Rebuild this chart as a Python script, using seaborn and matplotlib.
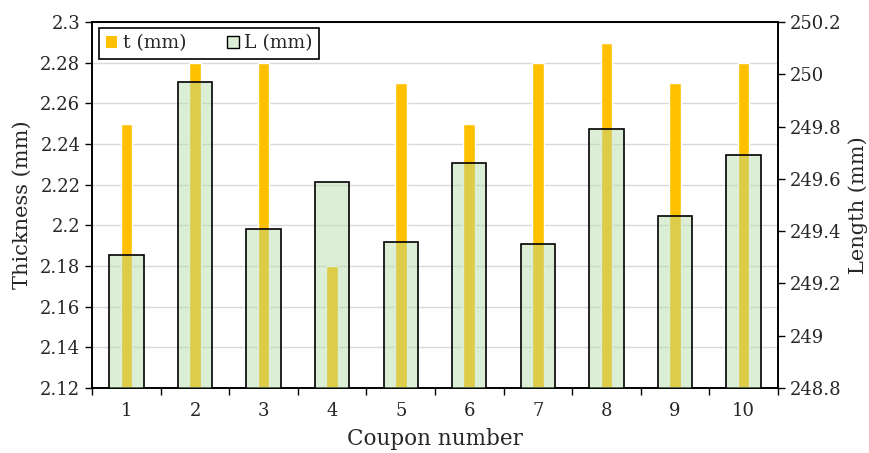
import numpy as np
import pandas as pd
import matplotlib
matplotlib.use("Agg")
import matplotlib.pyplot as plt
from matplotlib.patches import Patch
from matplotlib.colors import to_rgba
from matplotlib.ticker import FixedLocator, FormatStrFormatter
import seaborn as sns

# values
coupons = ["1", "2", "3", "4", "5", "6", "7", "8", "9", "10"]
thickness = [2.25, 2.28, 2.28, 2.18, 2.27, 2.25, 2.28, 2.29, 2.27, 2.28]
length = [249.31, 249.97, 249.41, 249.59, 249.36, 249.66, 249.35, 249.79, 249.46, 249.69]

t_ticks = [2.12, 2.14, 2.16, 2.18, 2.20, 2.22, 2.24, 2.26, 2.28, 2.30]
l_ticks = [248.8, 249.0, 249.2, 249.4, 249.6, 249.8, 250.0, 250.2]

df = pd.DataFrame({"Coupon": coupons, "t": thickness, "L": length})

sns.set_theme(style="ticks")
plt.rcParams["font.family"] = ["DejaVu Serif"]

orange = "#FFC000"
green = "#B3DBA2"

fig = plt.figure(figsize=(8.7, 4.53), dpi=100)
ax = fig.add_axes([0.106, 0.1435, 0.788, 0.8075])

sns.barplot(data=df, x="Coupon", y="t", color=orange, width=0.17,
            saturation=1, ax=ax, zorder=2)
ax.set_ylim(2.12, 2.30)
ax.yaxis.set_major_locator(FixedLocator(t_ticks))
ax.yaxis.set_major_formatter(FormatStrFormatter("%g"))
ax.grid(axis="y", color="#d9d9d9", lw=1.0, zorder=0)
ax.set_axisbelow(True)

ax2 = ax.twinx()
sns.barplot(data=df, x="Coupon", y="L", color=green, width=0.5,
            saturation=1, ax=ax2, zorder=3)
# semi-transparent fill, solid black outline
for p in ax2.patches:
    p.set_alpha(None)
    p.set_facecolor(to_rgba(green, 0.45))
    p.set_edgecolor("black")
    p.set_linewidth(1.2)
ax2.set_ylim(248.8, 250.2)
ax2.yaxis.set_major_locator(FixedLocator(l_ticks))
ax2.yaxis.set_major_formatter(FormatStrFormatter("%g"))

# category ticks: labels at bar centres, tick marks at boundaries
for a in (ax, ax2):
    a.set_xlim(-0.5, 9.5)
ax.set_xticks(range(len(coupons)))
ax.set_xticklabels(coupons)
ax.set_xticks(np.arange(-0.5, len(coupons), 1.0), minor=True)
ax.tick_params(axis="x", which="major", length=0, pad=10, labelsize=13)
ax.tick_params(axis="x", which="minor", length=5, width=1, direction="out", color="black")
ax.tick_params(axis="y", length=5, width=1, direction="out", labelsize=13, color="black")
ax2.tick_params(axis="y", length=5, width=1, direction="out", labelsize=13, color="black")

for a in (ax, ax2):
    for s in a.spines.values():
        s.set_visible(True)
        s.set_color("black")
        s.set_linewidth(1.2)

ax.set_xlabel("Coupon number", fontsize=15.5, labelpad=6)
ax.set_ylabel("Thickness (mm)", fontsize=15, labelpad=6)
ax2.set_ylabel("Length (mm)", fontsize=15, labelpad=5)

handles = [Patch(facecolor=orange, edgecolor="none", label="t (mm)"),
           Patch(facecolor="#DCEED5", edgecolor="black", lw=1.0, label="L (mm)")]
leg = ax2.legend(handles=handles, loc="upper left", ncol=2, fontsize=13.5,
                 frameon=True, fancybox=False, edgecolor="black", framealpha=1,
                 handlelength=0.6, handleheight=0.6, handletextpad=0.3,
                 columnspacing=2.2, borderaxespad=0.3, borderpad=0.35,
                 bbox_to_anchor=(0.002, 1.0))
leg.get_frame().set_linewidth(1.2)

fig.savefig("out.png", dpi=100)
